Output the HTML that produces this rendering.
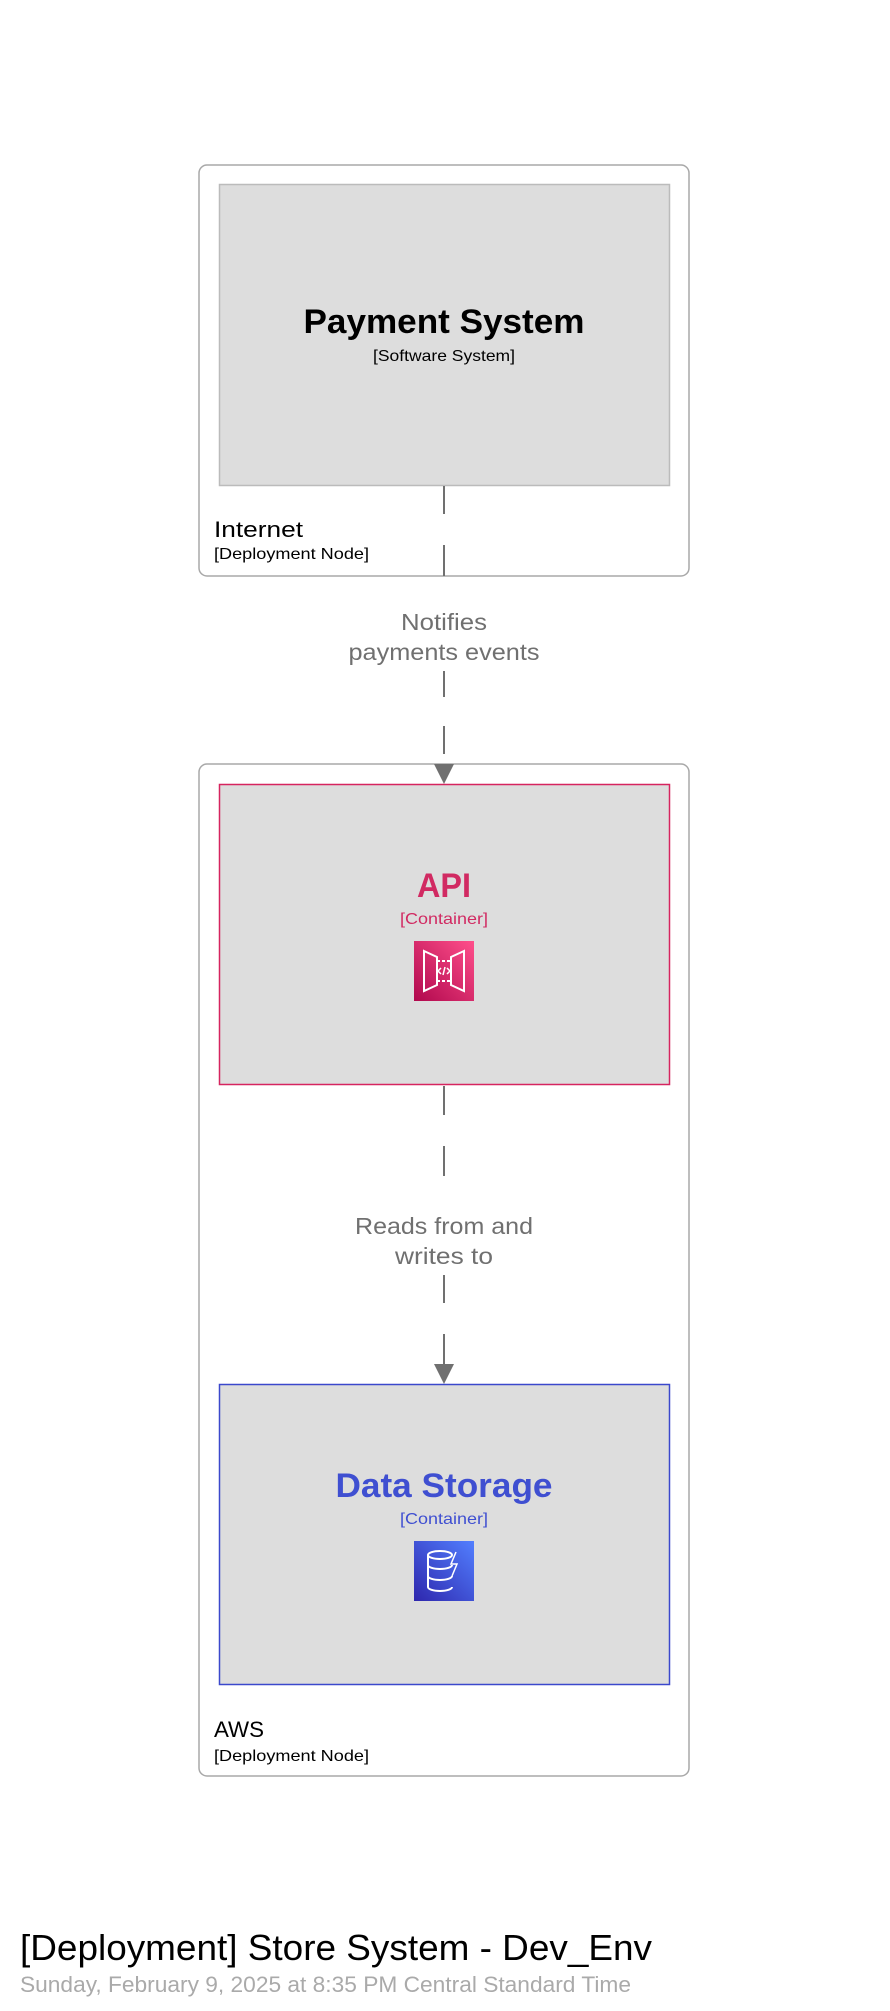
<!DOCTYPE html>
<html><head><meta charset="utf-8"><style>html,body{margin:0;padding:0;background:#fff}svg{display:block}text{font-family:"Liberation Sans","DejaVu Sans",sans-serif}</style></head>
<body>
<svg width="890" height="2011" viewBox="0 0 890 2011" xmlns="http://www.w3.org/2000/svg">
<defs>
<linearGradient id="gp" x1="0" y1="1" x2="1" y2="0"><stop offset="0" stop-color="#b0084d"/><stop offset="1" stop-color="#ff4f8b"/></linearGradient>
<linearGradient id="gb" x1="0" y1="1" x2="1" y2="0"><stop offset="0" stop-color="#2e27ad"/><stop offset="1" stop-color="#527fff"/></linearGradient>
</defs>
<!-- Internet node -->
<rect x="199" y="165" width="490" height="411" rx="8" fill="#fff" stroke="#a8a8a8" stroke-width="1.5"/>
<rect x="219.5" y="184.5" width="450" height="301" fill="#dddddd" stroke="#bbbbbb" stroke-width="1.5"/>
<text x="444" y="333" text-anchor="middle" font-size="34" font-weight="bold" fill="#000" textLength="281" lengthAdjust="spacingAndGlyphs">Payment System</text>
<text x="444" y="361" text-anchor="middle" font-size="16" fill="#000" textLength="142" lengthAdjust="spacingAndGlyphs">[Software System]</text>
<text x="214" y="537" font-size="22" fill="#000" textLength="89" lengthAdjust="spacingAndGlyphs">Internet</text>
<text x="214" y="559" font-size="16" fill="#000" textLength="155" lengthAdjust="spacingAndGlyphs">[Deployment Node]</text>
<!-- connector 1 -->
<g stroke="#707070" stroke-width="2">
<line x1="444" y1="486" x2="444" y2="514"/>
<line x1="444" y1="545" x2="444" y2="576"/>
<line x1="444" y1="671" x2="444" y2="697"/>
<line x1="444" y1="726" x2="444" y2="754"/>
</g>
<text x="444" y="630" text-anchor="middle" font-size="23" fill="#707070" textLength="86" lengthAdjust="spacingAndGlyphs">Notifies</text>
<text x="444" y="660" text-anchor="middle" font-size="23" fill="#707070" textLength="191" lengthAdjust="spacingAndGlyphs">payments events</text>
<!-- AWS node -->
<rect x="199" y="764" width="490" height="1012" rx="8" fill="#fff" stroke="#a8a8a8" stroke-width="1.5"/>
<polygon points="434,764 454,764 444,784" fill="#707070"/>
<rect x="219.5" y="784.5" width="450" height="300" fill="#dddddd" stroke="#d6245f" stroke-width="1.5"/>
<text x="444" y="897" text-anchor="middle" font-size="34" font-weight="bold" fill="#d12a62" textLength="54" lengthAdjust="spacingAndGlyphs">API</text>
<text x="444" y="924" text-anchor="middle" font-size="16" fill="#d12a62" textLength="88" lengthAdjust="spacingAndGlyphs">[Container]</text>
<rect x="414" y="941" width="60" height="60" fill="url(#gp)"/>
<g stroke="#fff" stroke-width="2" fill="none">
<polygon points="424,951 437,957 437,985 424,991"/>
<polygon points="464,951 451,957 451,985 464,991"/>
<line x1="437" y1="961" x2="451" y2="961" stroke-dasharray="3,2"/>
<line x1="437" y1="981" x2="451" y2="981" stroke-dasharray="3,2"/>
<path d="M441,968 l-3,3 l3,3 M447,968 l3,3 l-3,3 M445,967 l-2,8" stroke-width="1.5"/>
</g>
<!-- connector 2 -->
<g stroke="#707070" stroke-width="2">
<line x1="444" y1="1086" x2="444" y2="1115"/>
<line x1="444" y1="1146" x2="444" y2="1176"/>
<line x1="444" y1="1275" x2="444" y2="1303"/>
<line x1="444" y1="1334" x2="444" y2="1364"/>
</g>
<text x="444" y="1234" text-anchor="middle" font-size="23" fill="#707070" textLength="178" lengthAdjust="spacingAndGlyphs">Reads from and</text>
<text x="444" y="1264" text-anchor="middle" font-size="23" fill="#707070" textLength="98" lengthAdjust="spacingAndGlyphs">writes to</text>
<polygon points="434,1364 454,1364 444,1384" fill="#707070"/>
<rect x="219.5" y="1384.5" width="450" height="300" fill="#dddddd" stroke="#3b48cc" stroke-width="1.5"/>
<text x="444" y="1497" text-anchor="middle" font-size="34" font-weight="bold" fill="#3f4fd1" textLength="217" lengthAdjust="spacingAndGlyphs">Data Storage</text>
<text x="444" y="1524" text-anchor="middle" font-size="16" fill="#3f4fd1" textLength="88" lengthAdjust="spacingAndGlyphs">[Container]</text>
<rect x="414" y="1541" width="60" height="60" fill="url(#gb)"/>
<g stroke="#fff" stroke-width="2" fill="none">
<ellipse cx="440" cy="1555" rx="12" ry="4"/>
<path d="M428,1555 v32 a12,4 0 0 0 24,0 M428,1565 a12,4 0 0 0 24,0 M428,1576 a12,4 0 0 0 24,0"/>
<path d="M456,1552 l-5,12 h6 l-5,12" stroke-width="1.5"/>
</g>
<text x="214" y="1737" font-size="22" fill="#000" textLength="50" lengthAdjust="spacingAndGlyphs">AWS</text>
<text x="214" y="1761" font-size="16" fill="#000" textLength="155" lengthAdjust="spacingAndGlyphs">[Deployment Node]</text>
<!-- footer -->
<text x="20" y="1960" font-size="36" fill="#000" textLength="632" lengthAdjust="spacingAndGlyphs">[Deployment] Store System - Dev_Env</text>
<text x="20" y="1992" font-size="22" fill="#aaaaaa" textLength="611" lengthAdjust="spacingAndGlyphs">Sunday, February 9, 2025 at 8:35 PM Central Standard Time</text>
</svg>
</body></html>
